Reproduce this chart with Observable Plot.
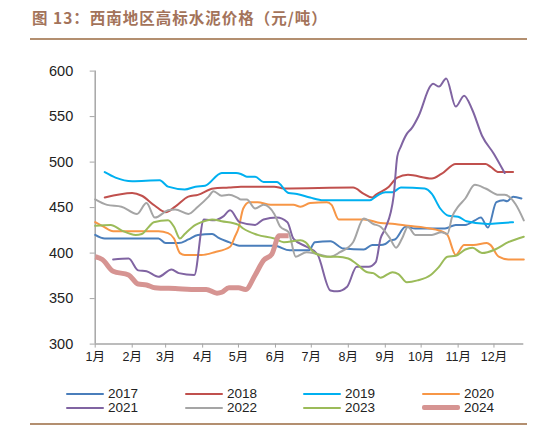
<!DOCTYPE html>
<html><head><meta charset="utf-8">
<script src="https://cdn.jsdelivr.net/npm/d3@7"></script>
<script src="https://cdn.jsdelivr.net/npm/@observablehq/plot@0.6"></script>
<style>
html,body{margin:0;padding:0;background:#fff;}
#root{position:relative;width:553px;height:429px;overflow:hidden;font-family:"Liberation Sans","Noto Sans CJK SC",sans-serif;}
#title{position:absolute;left:32px;top:6px;font-family:"Noto Sans CJK SC",sans-serif;font-weight:bold;font-size:15.5px;letter-spacing:1px;line-height:22px;color:#a3735a;white-space:nowrap;}
.rule{position:absolute;left:30px;width:497px;height:2px;background:#b38f70;}
#chart{position:absolute;left:0;top:50px;}
.lg{position:absolute;font-size:13.5px;line-height:14px;color:#222;white-space:nowrap;}
.lgline{position:absolute;width:38px;}
</style></head>
<body><div id="root">
<div id="title">图 13：西南地区高标水泥价格（元/吨）</div>
<div class="rule" style="top:38px"></div>
<div id="chart"></div>
<div id="legend"></div>
<div class="rule" style="top:423px"></div>
</div>
<script>
// x = day of year (0 = 1月1日), y = 元/吨
const monthStarts = [0,31,59,90,120,151,181,212,243,273,304,334];
const monthLabels = ["1月","2月","3月","4月","5月","6月","7月","8月","9月","10月","11月","12月"];
const yTicks = [300,350,400,450,500,550,600];
const years = ["2017","2018","2019","2020","2021","2022","2023","2024"];
const colors = ["#4a7ebb","#c0504d","#00b0f0","#f79646","#8064a2","#a5a5a5","#9bbb59","#d69492"];
const widths = [2,2,2,2,2,2,2,5];

const s2017 = [[0,420],[8,416],[30,416],[53,416],[59,411],[70,411],[78,415],[86,420],[98,421],[103,417],[112,412],[122,408],[150,408],[163,403],[179,403],[184,412],[197,413],[208,405],[225,404],[232,409],[239,409],[243,410],[247,414],[251,415],[260,429],[268,427],[293,427],[302,431],[310,431],[318,436],[323,439],[329,428],[336,456],[342,458],[345,457],[350,462],[357,460]];
const s2018 = [[8,461],[31,466],[39,463],[50,452],[59,445],[67,451],[78,462],[86,464],[99,471],[112,472],[122,473],[150,473],[158,471],[216,472],[225,465],[232,461],[235,464],[246,473],[253,483],[262,486],[282,482],[290,487],[302,498],[327,498],[331,495],[338,489],[350,489]];
const s2019 = [[8,489],[17,483],[31,479],[54,480],[61,473],[75,470],[84,473],[92,474],[106,488],[118,488],[122,487],[127,484],[134,484],[141,478],[152,478],[162,466],[169,465],[180,461],[191,458],[230,458],[236,463],[243,467],[249,467],[256,472],[276,471],[282,465],[289,449],[296,441],[304,440],[311,435],[329,432],[341,433],[350,434]];
const s2020 = [[0,434],[7,429],[15,424],[53,424],[61,422],[66,416],[71,400],[75,398],[89,398],[100,401],[113,407],[117,418],[120,427],[124,449],[129,456],[136,456],[147,453],[158,453],[166,453],[172,451],[180,455],[194,456],[198,453],[204,437],[225,437],[239,433],[251,432],[262,430],[276,428],[290,424],[295,420],[302,398],[309,409],[317,409],[328,411],[331,409],[338,396],[346,393],[359,393]];
const s2021 = [[15,393],[28,394],[36,381],[43,380],[53,374],[64,382],[70,378],[83,376],[91,437],[100,436],[107,440],[113,447],[121,434],[134,431],[141,437],[152,439],[161,434],[166,416],[177,407],[186,399],[197,359],[203,358],[211,363],[219,385],[229,385],[235,390],[239,416],[243,427],[250,463],[253,506],[256,517],[261,531],[265,537],[271,551],[281,584],[283,586],[288,583],[294,592],[302,561],[309,573],[316,557],[324,529],[334,509],[343,488]];
const s2022 = [[0,459],[10,453],[22,451],[35,443],[43,455],[50,439],[61,447],[67,448],[78,443],[86,451],[95,462],[99,468],[106,463],[112,464],[119,461],[122,459],[127,459],[134,449],[141,453],[150,443],[155,429],[162,423],[168,396],[177,401],[186,399],[197,396],[205,401],[216,412],[225,438],[233,432],[239,429],[242,425],[247,416],[252,406],[257,416],[262,429],[268,420],[282,420],[290,423],[295,421],[299,440],[304,451],[310,460],[318,475],[327,471],[338,464],[343,464],[352,454],[359,436]];
const s2023 = [[0,430],[13,431],[22,425],[34,420],[39,421],[45,429],[49,434],[61,436],[66,429],[71,416],[75,421],[84,431],[89,434],[98,437],[106,435],[120,431],[124,427],[136,420],[150,416],[158,412],[172,414],[176,412],[183,401],[194,396],[203,396],[212,394],[219,388],[228,379],[233,378],[239,373],[249,379],[254,377],[261,368],[270,370],[281,376],[288,385],[295,396],[302,397],[310,404],[316,406],[324,400],[335,404],[346,412],[359,418]];
const s2024 = [[0,396],[6,393],[15,380],[28,376],[36,366],[43,365],[50,362],[67,361],[86,360],[93,360],[102,356],[106,357],[112,362],[120,362],[126,360],[134,376],[141,392],[148,399],[154,419],[162,419]];
const seriesData = [s2017,s2018,s2019,s2020,s2021,s2022,s2023,s2024];

const axisColor = "#a6a6a6";
const lineMarks = seriesData.map((s, i) =>
  Plot.line(s, {x: d => d[0], y: d => d[1], stroke: colors[i], strokeWidth: widths[i], curve: "monotone-x", strokeLinejoin: "round", strokeLinecap: i === 7 ? "butt" : "round"})
);

const chart = Plot.plot({
  width: 553,
  height: 320,
  marginLeft: 94.7,
  marginRight: 29.7,
  marginTop: 20.6,
  marginBottom: 26.4,
  style: {fontFamily: '"Liberation Sans","Noto Sans CJK SC",sans-serif', background: "transparent", color: "#222"},
  x: {domain: [0, 359]},
  y: {domain: [300, 600]},
  marks: [
    Plot.axisY({ticks: yTicks, tickSize: 5, tickPadding: 17, fontSize: 14.5, stroke: axisColor, fill: "#222", label: null}),
    Plot.axisX({ticks: monthStarts, tickFormat: d => monthLabels[monthStarts.indexOf(d)], tickSize: 4, tickPadding: 4, fontSize: 12.5, stroke: axisColor, fill: "#222", label: null}),
    Plot.ruleX([0], {stroke: axisColor, strokeWidth: 1.5}),
    Plot.ruleY([300], {stroke: axisColor, strokeWidth: 1.5}),
    ...lineMarks
  ]
});
document.getElementById("chart").appendChild(chart);

// legend
const legend = document.getElementById("legend");
const colX = [66, 185, 303, 422];
const rowY = [394, 408];
years.forEach((y, i) => {
  const cx = colX[i % 4], cy = rowY[Math.floor(i / 4)];
  const ln = document.createElement("div");
  ln.className = "lgline";
  ln.style.left = cx + "px";
  ln.style.top = (cy - widths[i] / 2 - 0.5) + "px";
  ln.style.height = (widths[i] === 2 ? 2.5 : 4.5) + "px";
  ln.style.background = colors[i];
  ln.style.borderRadius = "2px";
  legend.appendChild(ln);
  const tx = document.createElement("div");
  tx.className = "lg";
  tx.style.left = (cx + 42) + "px";
  tx.style.top = (cy - 7.5) + "px";
  tx.textContent = y;
  legend.appendChild(tx);
});
</script>
</body></html>
